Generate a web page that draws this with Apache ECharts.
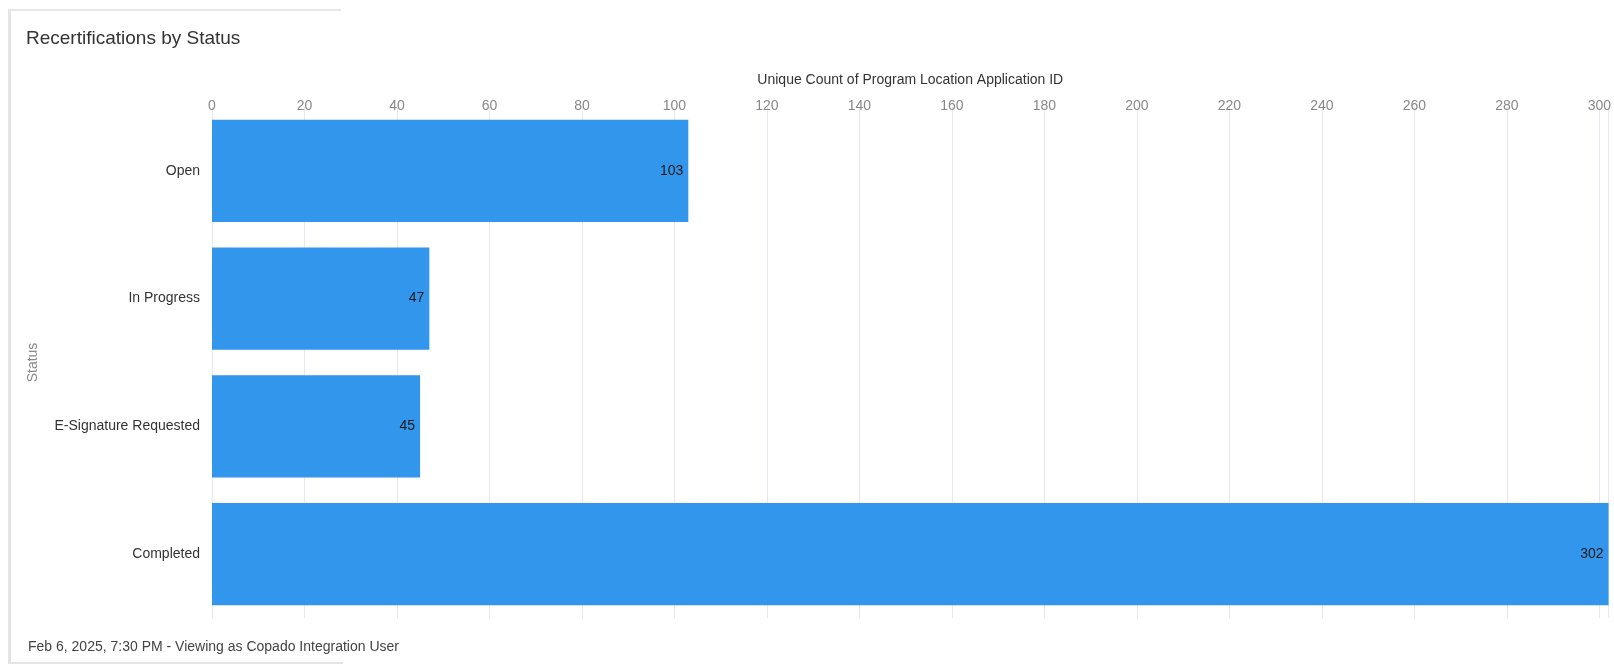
<!DOCTYPE html>
<html>
<head>
<meta charset="utf-8">
<script src="https://cdn.jsdelivr.net/npm/echarts@6/dist/echarts.min.js"></script>
<style>
html,body{margin:0;padding:0;background:#fff;}
#chart{width:1614px;height:665px;}
</style>
</head>
<body>
<div id="chart"></div>
<script>
const categories = ['Open', 'In Progress', 'E-Signature Requested', 'Completed'];
const values = [103, 47, 45, 302];
const xAxisMax = 302;
const tickInterval = 20;
const titleText = 'Recertifications by Status';
const xAxisName = 'Unique Count of Program Location Application ID';
const yAxisName = 'Status';
const footerText = 'Feb 6, 2025, 7:30 PM - Viewing as Copado Integration User';

const FONT = 'Liberation Sans, Arial, sans-serif';
const chart = echarts.init(document.getElementById('chart'));
chart.setOption({
  animation: false,
  backgroundColor: '#ffffff',
  title: {
    text: titleText,
    left: 21,
    top: 24,
    textStyle: { fontFamily: FONT, fontSize: 19, fontWeight: 'normal', color: '#333333' }
  },
  graphic: [
    { type: 'rect', shape: { x: 8, y: 10, width: 3, height: 653 }, style: { fill: '#e4e4e4' } },
    { type: 'rect', shape: { x: 8, y: 9, width: 333, height: 2 }, style: { fill: '#e6e6e6' } },
    { type: 'rect', shape: { x: 8, y: 662, width: 335, height: 2 }, style: { fill: '#e4e4e4' } },
    { type: 'text', left: 28, top: 640, style: { text: footerText, font: '14px ' + FONT, fill: '#444444' } }
  ],
  grid: { left: 212, top: 107, width: 1400, height: 511, containLabel: false },
  xAxis: {
    type: 'value',
    position: 'top',
    min: 0,
    max: xAxisMax,
    interval: tickInterval,
    name: xAxisName,
    nameLocation: 'middle',
    nameGap: 20,
    nameTextStyle: { fontFamily: FONT, fontSize: 14, color: '#333333' },
    axisLine: { show: false },
    axisTick: { show: false },
    axisLabel: { showMaxLabel: false, margin: -6, fontFamily: FONT, fontSize: 14, color: '#888888' },
    splitLine: { show: true, lineStyle: { color: '#e5e8ee', width: 1 } }
  },
  yAxis: {
    type: 'category',
    data: categories,
    inverse: true,
    name: yAxisName,
    nameLocation: 'middle',
    nameGap: 172,
    nameTextStyle: { fontFamily: FONT, fontSize: 14, color: '#888888' },
    axisLine: { show: false },
    axisTick: { show: false },
    axisLabel: { margin: 12, fontFamily: FONT, fontSize: 14, color: '#333333' },
    splitLine: { show: false }
  },
  series: [{
    type: 'bar',
    data: values,
    barCategoryGap: '20%',
    itemStyle: { color: '#3296ED' },
    label: {
      show: true,
      position: 'insideRight',
      distance: 5,
      fontFamily: FONT,
      fontSize: 14,
      color: '#1a1a1a'
    }
  }]
});
</script>
</body>
</html>
